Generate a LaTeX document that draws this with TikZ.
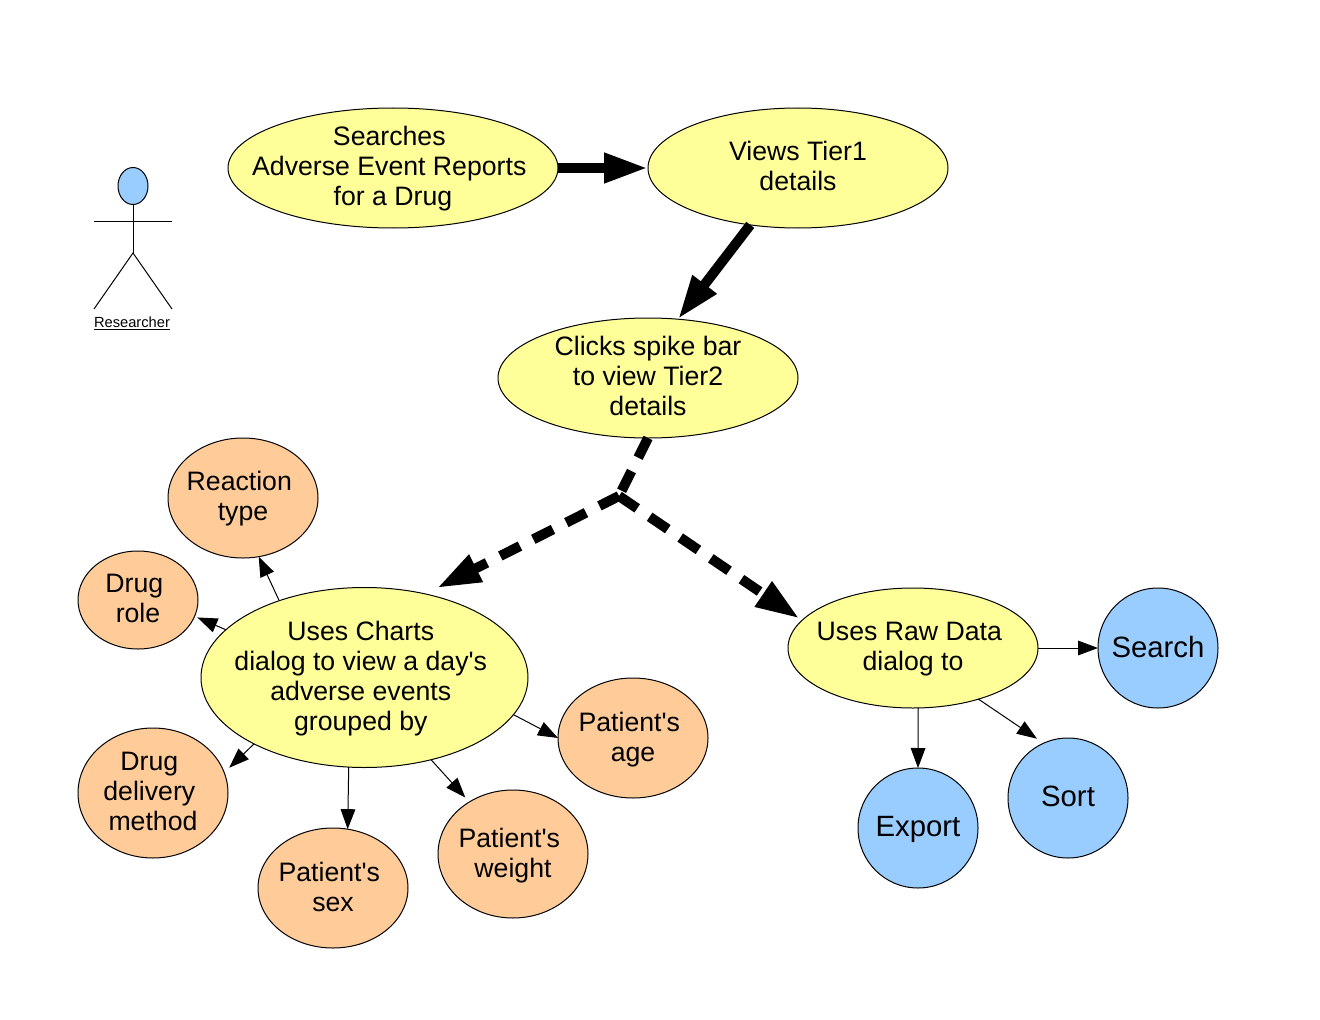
\documentclass[tikz,border=0pt]{standalone}
\usepackage{fontspec}
\setmainfont{Liberation Sans}[Ligatures=TeXOff]
\usetikzlibrary{arrows.meta, shapes.geometric}
\definecolor{stepyellow}{RGB}{255,255,153}
\definecolor{fieldorange}{RGB}{255,204,153}
\definecolor{actionblue}{RGB}{153,204,255}
\newcommand{\trail}{\hbox{\kern.278em}}
\tikzset{
  bubble/.style={ellipse, draw, line width=0.75pt, inner sep=-30pt, outer sep=0pt, align=center,
                 font=\fontsize{20}{22.5}\selectfont, text depth=2.5pt},
  wh/.style 2 args={minimum width=#1*0.75pt, minimum height=#2*0.75pt},
  stepnode/.style={bubble, fill=stepyellow},
  fieldnode/.style={bubble, fill=fieldorange},
  actionnode/.style={bubble, fill=actionblue, wh={120}{120}, font=\fontsize{22}{24}\selectfont,
                     text depth=2.3pt},
  bigarrow/.style={line width=7.5pt, -{Triangle[length=33pt, width=21pt]}},
  dashedarrow/.style={bigarrow, dash pattern=on 16.5pt off 11.25pt},
  smallarrow/.style={line width=0.75pt, -{Triangle[length=15pt, width=11pt]}}
}

\begin{document}
\begin{tikzpicture}[x=0.75pt, y=-0.75pt]
\useasboundingbox (0,0) rectangle (1320,1020);

% Actor
\node[ellipse, draw, fill=actionblue, line width=0.75pt, outer sep=0pt, inner sep=0pt,
      wh={30}{37}] (head) at (133,186) {};
\coordinate (hip) at (133,253);
\coordinate (lefthand) at (94,221);
\coordinate (righthand) at (172,221);
\coordinate (leftfoot) at (94,309);
\coordinate (rightfoot) at (172,309);
\draw[line width=0.75pt] (head.south) -- (hip);
\draw[line width=0.75pt] (lefthand) -- (righthand);
\draw[line width=0.75pt] (leftfoot) -- (hip) -- (rightfoot);
\node[font=\fontsize{11}{13}\selectfont, inner sep=0pt] (researcher) at (132,323.5) {\underline{Researcher}};

% Main steps
\node[stepnode, wh={330}{120}] (searches) at (393,168) {Searches\trail\\Adverse Event Reports\trail\\for a Drug};
\node[stepnode, wh={300}{120}] (views) at (798,168) {Views Tier1\\details};
\node[stepnode, wh={300}{120}] (clicks) at (648,378) {Clicks spike bar\\to view Tier2\\details};
\node[stepnode, wh={327}{180}] (charts) at (364.5,677.5) {Uses Charts\trail\\dialog to view a day's\trail\\adverse events\trail\\grouped by\trail};
\node[stepnode, wh={250}{120}] (rawdata) at (913,648) {Uses Raw Data\trail\\dialog to};

% Chart groupings
\node[fieldnode, wh={150}{120}] (reaction) at (243,498) {Reaction\trail\\type};
\node[fieldnode, wh={120}{98}] (role) at (138,600) {Drug\trail\\role};
\node[fieldnode, wh={150}{130}] (delivery) at (153,793) {Drug\trail\\delivery\trail\\method};
\node[fieldnode, wh={150}{120}] (sex) at (333,888) {Patient's\trail\\sex};
\node[fieldnode, wh={150}{128}] (weight) at (513,854) {Patient's\trail\\weight};
\node[fieldnode, wh={150}{120}] (age) at (633,738) {Patient's\trail\\age};

% Raw data actions
\node[actionnode] (search) at (1158,648) {Search};
\node[actionnode] (sort) at (1068,798) {Sort};
\node[actionnode] (export) at (918,828) {Export};

% Main flow
\coordinate (fork) at (619,496);
\draw[bigarrow] (searches.east) -- (views.west);
\draw[bigarrow] (views.230) -- (clicks.63);
\draw[line width=7.5pt, dash pattern=on 16.5pt off 11.25pt] (clicks.south) -- (fork);
\draw[dashedarrow, shorten >=9.75pt] (fork) -- (charts.54);
\draw[dashedarrow, shorten >=2.25pt] (fork) -- (rawdata.166);

% Thin arrows
\draw[smallarrow] (charts.138) -- (reaction.285);
\draw[smallarrow, shorten >=2.25pt] (charts.161) -- (role.344);
\draw[smallarrow, shorten >=5.25pt] (charts.211) -- (delivery.16);
\draw[smallarrow] (charts.260) -- (sex.76);
\draw[smallarrow, shorten >=4.5pt] (charts.309) -- (weight.130);
\draw[smallarrow] (charts.346) -- (age.west);
\draw[smallarrow] (rawdata.east) -- (search.west);
\draw[smallarrow, shorten >=6pt] (rawdata.322) -- (sort.114);
\draw[smallarrow] (rawdata.275) -- (export.north);

\end{tikzpicture}
\end{document}
